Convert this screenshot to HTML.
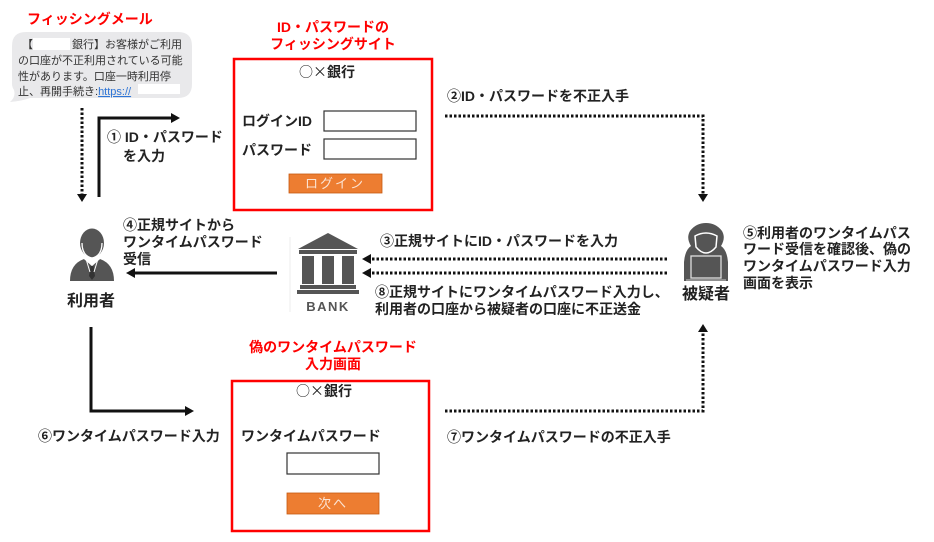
<!DOCTYPE html>
<html><head><meta charset="utf-8">
<style>
html,body{margin:0;padding:0;background:#fff;}
svg{display:block;}
text{font-family:"Liberation Sans","Noto Sans CJK JP",sans-serif;}
.cjk{font-family:"Noto Sans CJK JP",sans-serif;}
</style></head>
<body>
<svg width="934" height="542" viewBox="0 0 934 542" xmlns="http://www.w3.org/2000/svg">
<!-- Phishing mail -->
<text x="27" y="24" font-size="14" font-weight="bold" fill="#f00">フィッシングメール</text>
<path d="M26 32 H178 Q192 32 192 46 V84 Q192 98 178 98 H30 Q22 101 10 102 Q16 97 14 90 Q12 87 12 84 V46 Q12 32 26 32 Z" fill="#e9e9eb"/>
<rect x="33" y="38" width="37" height="12" fill="#fff"/>
<rect x="138" y="84" width="42" height="10" fill="#fff"/>
<g font-size="11" fill="#333">
<text x="22" y="48">【</text>
<text x="72" y="48">銀行】お客様がご利用</text>
<text x="18" y="64">の口座が不正利用されている可能</text>
<text x="18" y="80">性があります。口座一時利用停</text>
<text x="18" y="95">止、再開手続き:<tspan fill="#2e75d6" text-decoration="underline">https://</tspan></text>
</g>

<!-- Phishing site box -->
<text x="333" y="32" font-size="14" font-weight="bold" fill="#f00" text-anchor="middle">ID・パスワードの</text>
<text x="333" y="49" font-size="14" font-weight="bold" fill="#f00" text-anchor="middle">フィッシングサイト</text>
<rect x="234" y="59" width="198" height="151" fill="#fff" stroke="#f00" stroke-width="2.5"/>
<text x="327" y="77" font-size="14" fill="#222" text-anchor="middle"><tspan class="cjk">○×</tspan><tspan font-weight="bold">銀行</tspan></text>
<text x="242" y="126" font-size="14" font-weight="bold" fill="#222">ログインID</text>
<rect x="324" y="111" width="92" height="20" fill="#fff" stroke="#333" stroke-width="1.2"/>
<text x="242" y="155" font-size="14" font-weight="bold" fill="#222">パスワード</text>
<rect x="324" y="139" width="92" height="20" fill="#fff" stroke="#333" stroke-width="1.2"/>
<rect x="289" y="174" width="93" height="19" fill="#ed7d31" stroke="#c55a11" stroke-width="0.8"/>
<text x="335" y="188" font-size="13" fill="#fbe3d3" text-anchor="middle" letter-spacing="2">ログイン</text>

<!-- Fake OTP box -->
<text x="333" y="352" font-size="14" font-weight="bold" fill="#f00" text-anchor="middle">偽のワンタイムパスワード</text>
<text x="333" y="369" font-size="14" font-weight="bold" fill="#f00" text-anchor="middle">入力画面</text>
<rect x="232" y="381" width="197" height="150" fill="#fff" stroke="#f00" stroke-width="2.5"/>
<text x="324" y="396" font-size="14" fill="#222" text-anchor="middle"><tspan class="cjk">○×</tspan><tspan font-weight="bold">銀行</tspan></text>
<text x="241" y="441" font-size="14" font-weight="bold" fill="#222">ワンタイムパスワード</text>
<rect x="287" y="453" width="92" height="21" fill="#fff" stroke="#333" stroke-width="1.2"/>
<rect x="287" y="493" width="92" height="21" fill="#ed7d31" stroke="#c55a11" stroke-width="0.8"/>
<text x="333" y="508" font-size="13" fill="#fbe3d3" text-anchor="middle" letter-spacing="2">次へ</text>

<!-- Dotted connectors -->
<g fill="none" stroke="#111" stroke-width="3" stroke-dasharray="2.5 2">
<path d="M82 108 V195"/>
<path d="M445 116 H703 V195"/>
<path d="M667 259 H370"/>
<path d="M667 273 H370"/>
<path d="M445 411 H703 V331"/>
</g>
<g fill="#111">
<polygon points="77,194 87,194 82,202"/>
<polygon points="698,194 708,194 703,202"/>
<polygon points="371,254 371,264 362,259"/>
<polygon points="371,268 371,278 362,273"/>
<polygon points="698,332 708,332 703,324"/>
</g>

<!-- Solid connectors -->
<g fill="none" stroke="#111" stroke-width="3">
<path d="M99 197 V118 H172"/>
<path d="M277 273 H134"/>
<path d="M91 327 V411 H186"/>
</g>
<g fill="#111">
<polygon points="171,113 171,123 180,118"/>
<polygon points="135,268 135,278 126,273"/>
<polygon points="185,406 185,416 194,411"/>
</g>

<!-- Labels -->
<g font-size="14" font-weight="bold" fill="#222">
<text x="447" y="101">②ID・パスワードを不正入手</text>
<text x="107" y="142">① ID・パスワード</text>
<text x="123" y="161">を入力</text>
<text x="123" y="230">④正規サイトから</text>
<text x="123" y="247">ワンタイムパスワード</text>
<text x="123" y="264">受信</text>
<text x="380" y="246">③正規サイトにID・パスワードを入力</text>
<text x="375" y="297">⑧正規サイトにワンタイムパスワード入力し、</text>
<text x="375" y="314">利用者の口座から被疑者の口座に不正送金</text>
<text x="743" y="238">⑤利用者のワンタイムパス</text>
<text x="743" y="254">ワード受信を確認後、偽の</text>
<text x="743" y="271">ワンタイムパスワード入力</text>
<text x="743" y="288">画面を表示</text>
<text x="38" y="441">⑥ワンタイムパスワード入力</text>
<text x="447" y="442">⑦ワンタイムパスワードの不正入手</text>
</g>
<text x="91" y="306" font-size="16" font-weight="bold" fill="#222" text-anchor="middle">利用者</text>
<text x="706" y="299" font-size="16" font-weight="bold" fill="#222" text-anchor="middle">被疑者</text>

<!-- User icon -->
<g>
<ellipse cx="92" cy="243" rx="12" ry="14.5" fill="#555"/>
<path d="M82 243 Q82 256 92 258 Q102 256 102 243" fill="none" stroke="#fff" stroke-width="1.3"/>
<path d="M70 281 Q70 264 84 259 L92 266 L100 259 Q114 264 114 281 Z" fill="#555"/>
<path d="M84 259 L92 266 L100 259 L98 257 L92 262 L86 257 Z" fill="#fff"/>
<polygon points="90.5,266 93.5,266 95,276 92,280 89,276" fill="#333"/>
<path d="M86 259 L90 272 M98 259 L94 272" stroke="#fff" stroke-width="1" fill="none"/>
</g>

<!-- Bank icon -->
<line x1="290" y1="237" x2="290" y2="312" stroke="#eee" stroke-width="1"/>
<g fill="#555">
<polygon points="328,233 298,249 358,249"/>
<rect x="299" y="250" width="58" height="4"/>
<rect x="302" y="256" width="12" height="28"/>
<rect x="322" y="256" width="12" height="28"/>
<rect x="342" y="256" width="12" height="28"/>
<rect x="300" y="285" width="56" height="4"/>
<rect x="297" y="290" width="62" height="4"/>
<text x="328" y="311" font-size="13" font-weight="bold" text-anchor="middle" letter-spacing="1.5">BANK</text>
</g>

<!-- Suspect icon -->
<g>
<path d="M684 281 L684 262 Q685 250 691 246 Q686 238 690 231 Q696 223 706 223 Q716 223 722 231 Q726 238 721 246 Q727 250 728 262 L728 281 Z" fill="#555"/>
<path d="M695 236 Q706 230 717 236 L716 247 Q706 259 696 247 Z" fill="#555" stroke="#fff" stroke-width="1.5"/>
<rect x="691" y="256" width="30" height="22" fill="#555" stroke="#ddd" stroke-width="1.3"/>
<line x1="686" y1="280" x2="726" y2="280" stroke="#ccc" stroke-width="1"/>
</g>
</svg>
</body></html>
